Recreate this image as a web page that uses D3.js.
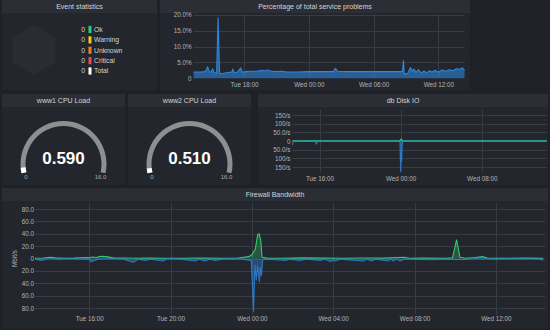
<!DOCTYPE html>
<html>
<head>
<meta charset="utf-8">
<script src="https://cdn.jsdelivr.net/npm/d3@7"></script>
<style>
  html, body { margin: 0; padding: 0; background: #1f2126; }
  svg { display: block; font-family: "Liberation Sans", Arial, sans-serif; }
</style>
</head>
<body>
<svg id="dash" width="550" height="330"></svg>
<script>
// ---------- data ----------
const eventCategories = ["Ok", "Warning", "Unknown", "Critical", "Total"];
const eventCounts = [0, 0, 0, 0, 0];
const eventColors = ["#22d07c", "#f2c819", "#f5801a", "#ef4652", "#ffffff"];

const timeRange = ["Tue 13:20", "Wed 14:25"];

// Percentage of total service problems
const problemTimes = [
  "Tue 13:20", "Tue 14:00", "Tue 14:25", "Tue 14:38", "Tue 14:48", "Tue 14:58", "Tue 15:06", "Tue 15:14",
  "Tue 15:28", "Tue 15:36", "Tue 15:44", "Tue 16:00", "Tue 16:30", "Tue 16:52", "Tue 16:58", "Tue 17:05",
  "Tue 17:25", "Tue 17:42", "Tue 17:50", "Tue 18:10", "Tue 18:40", "Tue 19:10", "Tue 19:40", "Tue 19:55",
  "Tue 20:10", "Tue 20:30", "Tue 21:00", "Tue 21:30", "Tue 22:00", "Tue 23:00", "Wed 00:00", "Wed 01:00",
  "Wed 02:15", "Wed 02:28", "Wed 02:40", "Wed 03:30", "Wed 05:00", "Wed 06:30", "Wed 08:00", "Wed 08:40",
  "Wed 08:46", "Wed 08:50", "Wed 09:10", "Wed 09:25", "Wed 09:35", "Wed 09:45", "Wed 09:55", "Wed 10:10",
  "Wed 10:25", "Wed 10:40", "Wed 10:55", "Wed 11:10", "Wed 11:25", "Wed 11:40", "Wed 12:00", "Wed 12:20",
  "Wed 12:40", "Wed 13:00", "Wed 13:20", "Wed 13:40", "Wed 14:00", "Wed 14:12", "Wed 14:20", "Wed 14:25"
];
const problemValues = [
  2.0, 2.0, 2.1, 3.6, 2.0, 2.0, 3.0, 1.8,
  1.6, 19.0, 1.6, 1.5, 1.8, 2.0, 2.9, 1.8,
  2.0, 3.3, 1.9, 2.1, 2.2, 2.2, 2.5, 2.3,
  2.6, 2.3, 2.1, 2.2, 2.0, 2.0, 2.1, 2.1,
  2.1, 3.1, 2.2, 2.1, 2.1, 2.1, 2.1, 2.1,
  5.6, 1.4, 1.6, 3.4, 2.2, 2.9, 1.8, 2.7,
  1.6, 2.3, 1.7, 2.4, 2.0, 2.5, 1.9, 2.6,
  2.2, 2.7, 2.4, 3.0, 2.8, 3.3, 2.9, 2.4
];
const problemTicks = [0, 5, 10, 15, 20];
const problemTickLabels = ["0", "5.0%", "10.0%", "15.0%", "20.0%"];
const problemTimeTicks = ["Tue 18:00", "Wed 00:00", "Wed 06:00", "Wed 12:00"];

// CPU load gauges
const cpuTitles = ["www1 CPU Load", "www2 CPU Load"];
const cpuLoads = [0.590, 0.510];
const cpuMin = 0;
const cpuMax = 16.0;

// db Disk IO (reads up, writes down)
const diskReadTimes = ["Tue 13:20", "Tue 15:05", "Tue 15:10", "Tue 15:15", "Tue 23:55", "Wed 00:04", "Wed 00:08", "Wed 14:25"];
const diskReadValues = [0.5, 0.5, 3, 0.5, 0.5, 12, 0.5, 0.5];
const diskWriteTimes = ["Tue 13:20", "Tue 13:24", "Tue 15:35", "Tue 15:42", "Tue 15:48", "Tue 23:56", "Wed 00:00",
  "Wed 00:03", "Wed 00:06", "Wed 00:09", "Wed 00:13", "Wed 14:25"];
const diskWriteValues = [-25, -2, -1, -18, -1, -1, -178, -70, -115, -30, -1, -1];
const diskTicks = [-150, -100, -50, 0, 50, 100, 150];
const diskTickLabels = ["150/s", "100/s", "50.0/s", "0", "50.0/s", "100/s", "150/s"];
const diskTimeTicks = ["Tue 16:00", "Wed 00:00", "Wed 08:00"];

// Firewall bandwidth (in up, out down), Mbit/s
const fwInTimes = [
  "Tue 13:20", "Tue 13:45", "Tue 14:05", "Tue 14:20", "Tue 14:45", "Tue 15:15", "Tue 15:50", "Tue 16:00",
  "Tue 16:10", "Tue 16:20", "Tue 16:35", "Tue 16:50", "Tue 17:10", "Tue 17:40", "Tue 18:20", "Tue 19:00",
  "Tue 19:40", "Tue 20:30", "Tue 21:30", "Tue 22:30", "Tue 23:20", "Tue 23:50", "Wed 00:00", "Wed 00:10",
  "Wed 00:17", "Wed 00:21", "Wed 00:26", "Wed 00:30", "Wed 00:45", "Wed 01:30", "Wed 02:30", "Wed 03:30",
  "Wed 04:30", "Wed 05:30", "Wed 06:30", "Wed 07:30", "Wed 07:45", "Wed 08:30", "Wed 09:30", "Wed 09:52",
  "Wed 10:04", "Wed 10:14", "Wed 10:30", "Wed 11:00", "Wed 11:20", "Wed 11:35", "Wed 12:30", "Wed 13:30",
  "Wed 14:20"
];
const fwInValues = [
  0.5, 0.8, 2.0, 1.0, 0.5, 0.6, 1.5, 1.0,
  2.5, 1.5, 3.5, 3.0, 1.0, 0.8, 0.5, 0.6,
  0.5, 0.5, 0.6, 0.5, 0.8, 3.0, 6.0, 15,
  38, 40, 30, 2, 0.6, 0.5, 1.0, 0.6,
  0.5, 0.8, 0.6, 2.0, 0.5, 0.6, 0.5, 1.0,
  30, 2.0, 0.5, 1.5, 3.0, 0.8, 0.5, 0.6,
  0.5
];
const fwOutTimes = [
  "Tue 13:20", "Tue 13:40", "Tue 13:55", "Tue 14:30", "Tue 15:00", "Tue 15:30", "Tue 16:00", "Tue 16:05",
  "Tue 16:12", "Tue 16:25", "Tue 17:00", "Tue 17:40", "Tue 18:10", "Tue 18:25", "Tue 18:45", "Tue 19:00",
  "Tue 19:38", "Tue 19:50", "Tue 20:30", "Tue 21:13", "Tue 21:25", "Tue 21:42", "Tue 21:55", "Tue 22:12",
  "Tue 22:30", "Tue 23:30", "Tue 23:58", "Wed 00:05", "Wed 00:09", "Wed 00:13", "Wed 00:17", "Wed 00:22",
  "Wed 00:25", "Wed 00:28", "Wed 00:32", "Wed 00:50", "Wed 01:39", "Wed 01:50", "Wed 02:23", "Wed 02:40",
  "Wed 03:22", "Wed 03:35", "Wed 03:51", "Wed 04:00", "Wed 04:06", "Wed 04:20", "Wed 05:29", "Wed 05:40",
  "Wed 05:52", "Wed 06:05", "Wed 06:42", "Wed 06:50", "Wed 06:57", "Wed 07:08", "Wed 07:18", "Wed 07:30",
  "Wed 08:55", "Wed 09:10", "Wed 10:24", "Wed 11:00", "Wed 12:00", "Wed 13:00", "Wed 14:10", "Wed 14:20"
];
const fwOutValues = [
  -1, -3, -0.5, -1, -0.5, -1, -1, -5,
  -4, -1, -0.5, -1, -6, -1, -3, -1,
  -4, -0.5, -1, -4, -1, -4, -1, -3,
  -1, -1, -3, -85, -10, -35, -12, -38,
  -15, -28, -2, -1, -3, -1, -3, -1,
  -3, -1, -5, -3, -4, -1, -4, -1,
  -4, -1, -4, -1, -4, -1, -4, -1,
  -2, -1, -1.5, -0.5, -1, -0.5, -1, -3
];
const fwTicks = [-80, -60, -40, -20, 0, 20, 40, 60, 80];
const fwTickLabels = ["80.0", "60.0", "40.0", "20.0", "0", "20.0", "40.0", "60.0", "80.0"];
const fwTimeTicks = ["Tue 16:00", "Tue 20:00", "Wed 00:00", "Wed 04:00", "Wed 08:00", "Wed 12:00"];

// ---------- drawing ----------
const C = {
  panel: "#23262c",
  header: "#2b2e35",
  grid: "#383c43",
  title: "#d3d5d8",
  tick: "#b2b5b9",
  hex: "#292c33",
  blue: "#2f86dd",
  green: "#33cc6e"
};

const parseT = s => {
  const [day, hm] = s.split(" ");
  const [h, m] = hm.split(":").map(Number);
  return new Date(2016, 2, day === "Tue" ? 15 : 16, h, m);
};
const fmtTime = d3.timeFormat("%a %H:%M");
const svg = d3.select("#dash");

function panel(x, y, w, h, title) {
  const g = svg.append("g").attr("transform", `translate(${x},${y})`);
  g.append("rect").attr("width", w).attr("height", h).attr("fill", C.panel);
  g.append("rect").attr("width", w).attr("height", 13).attr("fill", C.header);
  g.append("text").attr("x", w / 2).attr("y", 9.3).attr("text-anchor", "middle")
    .attr("fill", C.title).attr("font-size", 7).text(title);
  return g;
}

function styleAxis(g) {
  g.attr("font-family", null).attr("font-size", 6.3);
  g.select(".domain").remove();
  g.selectAll("line").remove();
  g.selectAll("text").attr("fill", C.tick);
}

function grid(x, y, yTicks, timeTicks) {
  const [x0, x1] = x.range();
  const [yb, yt] = y.range();
  const g = svg.append("g").attr("stroke", C.grid).attr("stroke-width", 1);
  g.selectAll(".h").data(yTicks).join("line")
    .attr("x1", x0).attr("x2", x1)
    .attr("y1", d => Math.round(y(d)) + 0.5).attr("y2", d => Math.round(y(d)) + 0.5);
  g.selectAll(".v").data(timeTicks.map(parseT)).join("line")
    .attr("x1", d => Math.round(x(d)) + 0.5).attr("x2", d => Math.round(x(d)) + 0.5)
    .attr("y1", yt).attr("y2", yb);
}

function axes(x, y, yTicks, yLabels, timeTicks, yLabelX, xLabelY) {
  svg.append("g").attr("transform", `translate(${yLabelX},0)`)
    .call(d3.axisLeft(y).tickValues(yTicks).tickFormat((d, i) => yLabels[i]).tickSize(0).tickPadding(0))
    .call(styleAxis);
  svg.append("g").attr("transform", `translate(0,${xLabelY})`)
    .call(d3.axisBottom(x).tickValues(timeTicks.map(parseT)).tickFormat(fmtTime).tickSize(0).tickPadding(0))
    .call(styleAxis)
    .call(g => g.selectAll("text").attr("y", 0).attr("dy", null));
}

function series(x, y, times, values, color, fillOpacity, lineOpacity) {
  const pts = times.map((t, i) => [parseT(t), values[i]]);
  const area = d3.area().x(d => x(d[0])).y0(y(0)).y1(d => y(d[1]));
  const line = d3.line().x(d => x(d[0])).y(d => y(d[1]));
  svg.append("path").datum(pts).attr("d", area).attr("fill", color).attr("fill-opacity", fillOpacity);
  svg.append("path").datum(pts).attr("d", line).attr("fill", "none").attr("stroke", color)
    .attr("stroke-width", 1.1).attr("stroke-opacity", lineOpacity).attr("stroke-linejoin", "round");
}

const domainT = timeRange.map(parseT);

// --- Event statistics ---
{
  const g = panel(2, 0, 155, 90, "Event statistics");
  const hexR = 25, hx = 32, hy = 50;
  const hexPts = d3.range(6).map(i => {
    const a = (Math.PI / 3) * i - Math.PI / 2;
    return [hx + hexR * Math.cos(a), hy + hexR * Math.sin(a)];
  });
  g.append("polygon").attr("points", hexPts.map(p => p.join(",")).join(" ")).attr("fill", C.hex);
  const rowY = d3.scalePoint().domain(eventCategories).range([29.5, 71]);
  const rows = g.selectAll(".row").data(eventCategories).join("g")
    .attr("transform", d => `translate(0,${rowY(d)})`);
  rows.append("text").attr("x", 83).attr("y", 2.4).attr("text-anchor", "end")
    .attr("fill", C.title).attr("font-size", 6.8).text((d, i) => eventCounts[i]);
  rows.append("rect").attr("x", 86.5).attr("y", -3.6).attr("width", 3).attr("height", 7.2)
    .attr("fill", (d, i) => eventColors[i]);
  rows.append("text").attr("x", 92).attr("y", 2.4).attr("fill", C.title).attr("font-size", 6.8).text(d => d);
}

// --- Percentage of total service problems ---
{
  panel(160, 0, 310, 90, "Percentage of total service problems");
  const x = d3.scaleTime().domain(domainT).range([193.6, 464.5]);
  const y = d3.scaleLinear().domain([0, 20]).range([78.3, 14.7]);
  grid(x, y, problemTicks.slice(1), problemTimeTicks);
  axes(x, y, problemTicks, problemTickLabels, problemTimeTicks, 191.5, 86.7);
  series(x, y, problemTimes, problemValues, C.blue, 0.6, 1);
}

// --- CPU load gauges ---
const gaugePanels = [{ x: 2, w: 123 }, { x: 128, w: 123 }];
cpuLoads.forEach((load, i) => {
  const p = gaugePanels[i];
  const g = panel(p.x, 94, p.w, 91, cpuTitles[i]);
  const cx = p.w / 2, cy = 70;
  const a0 = -1.79, a1 = 1.79;
  const ang = d3.scaleLinear().domain([cpuMin, cpuMax]).range([a0, a1]);
  const arc = d3.arc().innerRadius(38).outerRadius(43);
  const gg = g.append("g").attr("transform", `translate(${cx},${cy})`);
  gg.append("path").attr("d", arc({ startAngle: a0, endAngle: a1 })).attr("fill", "#8e8f91");
  gg.append("path").attr("d", arc({ startAngle: a0, endAngle: ang(load) })).attr("fill", "#ffffff");
  gg.append("text").attr("x", 0).attr("y", -0.5).attr("text-anchor", "middle")
    .attr("fill", "#ffffff").attr("font-size", 17).attr("font-weight", "bold")
    .text(d3.format(".3f")(load));
  gg.append("text").attr("x", -37.5).attr("y", 15).attr("text-anchor", "middle")
    .attr("fill", "#a9abae").attr("font-size", 6).text(String(cpuMin));
  gg.append("text").attr("x", 37).attr("y", 15).attr("text-anchor", "middle")
    .attr("fill", "#a9abae").attr("font-size", 6).text(d3.format(".1f")(cpuMax));
});

// --- db Disk IO ---
{
  panel(258, 94, 290, 91, "db Disk IO");
  const x = d3.scaleTime().domain(domainT).range([292.5, 546.8]);
  const y = d3.scaleLinear().domain([-180, 180]).range([172.2, 109.8]);
  grid(x, y, diskTicks, diskTimeTicks);
  axes(x, y, diskTicks, diskTickLabels, diskTimeTicks, 290.5, 180.5);
  series(x, y, diskReadTimes, diskReadValues, C.green, 0.3, 1);
  series(x, y, diskWriteTimes, diskWriteValues, C.blue, 0.45, 0.8);
}

// --- Firewall Bandwidth ---
{
  panel(2, 188, 546, 140, "Firewall Bandwidth");
  const x = d3.scaleTime().domain(domainT).range([35, 545]);
  const y = d3.scaleLinear().domain([-90, 90]).range([314.2, 202.8]);
  grid(x, y, fwTicks, fwTimeTicks);
  axes(x, y, fwTicks, fwTickLabels, fwTimeTicks, 34, 320.5);
  svg.append("text").attr("transform", "translate(17,258.5) rotate(-90)")
    .attr("text-anchor", "middle").attr("fill", C.tick).attr("font-size", 6.3).text("Mbit/s");
  series(x, y, fwInTimes, fwInValues, C.green, 0.3, 1);
  series(x, y, fwOutTimes, fwOutValues, C.blue, 0.4, 0.8);
}
</script>
</body>
</html>
